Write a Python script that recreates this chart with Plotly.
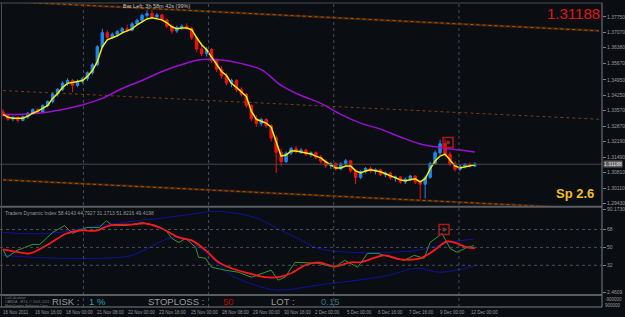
import plotly.graph_objects as go

# ---------------- data ----------------
bar_idx = list(range(96))
open_ = [1.3352,1.3336,1.3320,1.3328,1.3314,1.3330,1.3346,1.3362,1.3350,1.3380,
         1.3398,1.3432,1.3452,1.3480,1.3492,1.3470,1.3488,1.3500,1.3526,1.3562,
         1.3642,1.3705,1.3684,1.3698,1.3710,1.3722,1.3716,1.3744,1.3760,1.3782,
         1.3790,1.3775,1.3784,1.3762,1.3734,1.3712,1.3728,1.3734,1.3724,1.3682,
         1.3632,1.3612,1.3630,1.3580,1.3542,1.3512,1.3480,1.3492,1.3452,1.3430,
         1.3380,1.3322,1.3300,1.3318,1.3290,1.3236,1.3172,1.3130,1.3168,1.3188,
         1.3176,1.3182,1.3164,1.3170,1.3150,1.3132,1.3112,1.3122,1.3098,1.3120,
         1.3134,1.3090,1.3060,1.3086,1.3100,1.3088,1.3094,1.3072,1.3080,1.3058,
         1.3062,1.3040,1.3052,1.3066,1.3040,1.3030,1.3060,1.3122,1.3170,1.3210,
         1.3162,1.3120,1.3096,1.3110,1.3118,1.3110]
high = [1.3364,1.3342,1.3334,1.3331,1.3336,1.3352,1.3368,1.3368,1.3386,1.3404,
        1.3440,1.3458,1.3488,1.3502,1.3498,1.3496,1.3506,1.3532,1.3570,1.3650,
        1.3722,1.3716,1.3706,1.3718,1.3730,1.3740,1.3752,1.3768,1.3790,1.3805,
        1.3805,1.3792,1.3790,1.3768,1.3742,1.3736,1.3742,1.3746,1.3730,1.3690,
        1.3648,1.3640,1.3636,1.3588,1.3556,1.3524,1.3500,1.3498,1.3462,1.3436,
        1.3386,1.3338,1.3326,1.3324,1.3296,1.3246,1.3188,1.3176,1.3196,1.3200,
        1.3190,1.3188,1.3176,1.3176,1.3160,1.3140,1.3130,1.3128,1.3128,1.3142,
        1.3138,1.3096,1.3092,1.3106,1.3108,1.3100,1.3098,1.3086,1.3084,1.3068,
        1.3066,1.3060,1.3072,1.3070,1.3048,1.3068,1.3130,1.3180,1.3228,1.3230,
        1.3176,1.3132,1.3116,1.3124,1.3126,1.3128]
low = [1.3330,1.3312,1.3310,1.3306,1.3310,1.3322,1.3340,1.3344,1.3346,1.3372,
       1.3390,1.3420,1.3444,1.3468,1.3440,1.3462,1.3478,1.3490,1.3518,1.3555,
       1.3636,1.3672,1.3676,1.3686,1.3700,1.3708,1.3712,1.3736,1.3752,1.3770,
       1.3766,1.3768,1.3756,1.3726,1.3700,1.3704,1.3716,1.3718,1.3672,1.3618,
       1.3600,1.3598,1.3570,1.3530,1.3500,1.3470,1.3462,1.3440,1.3420,1.3370,
       1.3310,1.3286,1.3288,1.3280,1.3220,1.3080,1.3110,1.3124,1.3160,1.3166,
       1.3164,1.3156,1.3150,1.3140,1.3120,1.3102,1.3098,1.3090,1.3092,1.3112,
       1.3080,1.3030,1.3052,1.3078,1.3080,1.3074,1.3066,1.3060,1.3050,1.3040,
       1.3032,1.3030,1.3044,1.3030,1.2962,1.2966,1.3054,1.3116,1.3160,1.3150,
       1.3110,1.3086,1.3088,1.3100,1.3104,1.3106]
close = [1.3336,1.3320,1.3328,1.3314,1.3330,1.3346,1.3362,1.3350,1.3380,1.3398,
         1.3432,1.3452,1.3480,1.3492,1.3470,1.3488,1.3500,1.3526,1.3562,1.3642,
         1.3705,1.3684,1.3698,1.3710,1.3722,1.3716,1.3744,1.3760,1.3782,1.3790,
         1.3775,1.3784,1.3762,1.3734,1.3712,1.3728,1.3734,1.3724,1.3682,1.3632,
         1.3612,1.3630,1.3580,1.3542,1.3512,1.3480,1.3492,1.3452,1.3430,1.3380,
         1.3322,1.3300,1.3318,1.3290,1.3236,1.3172,1.3130,1.3168,1.3188,1.3176,
         1.3182,1.3164,1.3170,1.3150,1.3132,1.3112,1.3122,1.3098,1.3120,1.3134,
         1.3090,1.3060,1.3086,1.3100,1.3088,1.3094,1.3072,1.3080,1.3058,1.3062,
         1.3040,1.3052,1.3066,1.3040,1.3030,1.3060,1.3122,1.3170,1.3210,1.3162,
         1.3120,1.3096,1.3110,1.3118,1.3110,1.31188]
fast_ma = [1.3341,1.3328,1.3324,1.3324,1.3324,1.3333,1.3346,1.3355,1.3368,1.3381,
           1.3412,1.3434,1.3461,1.3479,1.3483,1.3487,1.3492,1.3510,1.3536,1.3576,
           1.3642,1.3673,1.3682,1.3691,1.3704,1.3713,1.3722,1.3740,1.3753,1.3766,
           1.3771,1.3766,1.3762,1.3749,1.3731,1.3722,1.3726,1.3726,1.3718,1.3682,
           1.3651,1.3629,1.3598,1.3567,1.3532,1.3514,1.3479,1.3461,1.3443,1.3421,
           1.3355,1.3319,1.3310,1.3302,1.3284,1.3222,1.3155,1.3160,1.3178,1.3178,
           1.3173,1.3169,1.3164,1.3155,1.3147,1.3129,1.3116,1.3102,1.3102,1.3111,
           1.3111,1.3089,1.3080,1.3089,1.3094,1.3089,1.3085,1.3076,1.3067,1.3058,
           1.3049,1.3045,1.3049,1.3054,1.3040,1.3054,1.3098,1.3133,1.3155,1.3164,
           1.3138,1.3111,1.3102,1.3107,1.3111,1.3116]
slow_ma_idx = [0,4,8,12,16,20,24,28,32,36,40,44,48,52,56,60,64,68,72,76,80,84,88,92,95]
slow_ma = [1.3341,1.3341,1.3348,1.3363,1.3383,1.3412,1.3456,1.3492,1.3532,1.3563,
           1.3585,1.3583,1.3567,1.3540,1.3470,1.3425,1.3390,1.3341,1.3302,1.3275,
           1.3240,1.3209,1.3193,1.3182,1.3173]
chan_idx = [0, 120]
chan_top = [1.3845, 1.3713]
chan_mid = [1.3447, 1.3319]
chan_bot = [1.3049, 1.2919]
bid = 1.31188
price_ticks = [1.37750,1.37070,1.36380,1.35670,1.34950,1.34250,1.33570,
               1.32870,1.32190,1.31490,1.30810,1.30110,1.29430]
signal_idx = [89.6]
signal_price = [1.3215]

tdi_green_idx = [0,0.8,2.8,6,7.4,10,12.4,14,16.8,19.4,20.8,22,24.8,28,30.8,32.8,34,35.4,36.8,38.8,
                 39.4,40.8,42,44.8,47.4,50,52.8,54,55.4,56.8,58.8,63.4,66.8,68.8,71.4,73.4,75.4,
                 78.8,80.8,82.8,84.8,86,88.4,90,91.4,93.4,94.8]
tdi_green = [48,40,47,53,53,65,72,64,70,70,77,72,72,75,72,67,59,55,59,50,
             40,39,30,27,25,20,25,27,17,20,35,34,30,37,30,44,44,
             39,37,42,39,55,64,49,45,50,51.8]
tdi_red_idx = [0,3.4,5.4,9.4,12.8,15.4,18.8,21.4,26,28.8,32,35.4,38,40.8,43.4,46,49.4,52.8,55.4,
               58,60.8,63.4,66.8,70,72,76.8,80,84,86.8,89.4,91.4,93.4,95]
tdi_red = [48,45,44,54,64,67,67,72,73,74,69,60,57,47,35,29,24,20,20,
           24,32,35,31,35,35,42,38,39,47,56,54,50,49.4]
tdi_up_idx = [0,9.4,19.4,27.4,32.8,37.4,42,46,51.4,56,59.4,63.4,70,76.8,83.4,90,94.8]
tdi_up = [65,64,72,77,80,83,86,85,79,67,59,49,45,45,47,55,58.4]
tdi_lo_idx = [0,6,19.4,26,31.4,34,36.8,41.4,46,52.8,56,63.4,76.8,83.4,88,94.8]
tdi_lo = [42,40,39,42,55,60,59,42,22,9,7,12,21,29,25,31.2]
tdi_levels = [68, 50, 32]
tdi_signal_idx = [88.8]
tdi_signal_val = [68]

date_labels = ["16 Nov 2011","16 Nov 16:00","18 Nov 00:00","21 Nov 08:00","22 Nov 00:00",
               "23 Nov 16:00","25 Nov 00:00","28 Nov 08:00","29 Nov 00:00","30 Nov 16:00",
               "2 Dec 00:00","5 Dec 00:00","6 Dec 16:00","7 Dec 16:00","9 Dec 00:00","12 Dec 00:00"]

# ---------------- layout helpers ----------------
BG = '#0a0d12'
W, H = 606.0, 307.0          # plot area in px
def py(px):
    return (H - px) / H
def px_x(px):
    return px / W
FONT = 'Liberation Sans'
GRAY = '#9a9a9a'

fig = go.Figure()

# channel lines
for vals in (chan_top, chan_bot):
    fig.add_trace(go.Scatter(x=chan_idx, y=vals, mode='lines',
                             line=dict(color='#3c2008', width=2.5), xaxis='x', yaxis='y'))
    fig.add_trace(go.Scatter(x=chan_idx, y=vals, mode='lines',
                             line=dict(color='#a85818', width=1, dash='dot'), xaxis='x', yaxis='y'))
fig.add_trace(go.Scatter(x=chan_idx, y=chan_mid, mode='lines',
                         line=dict(color='#7a3e12', width=1, dash='dot'), xaxis='x', yaxis='y'))

fig.add_trace(go.Candlestick(x=bar_idx, open=open_, high=high, low=low, close=close,
                             increasing=dict(line=dict(color='#1e88f0', width=1), fillcolor='#1e88f0'),
                             decreasing=dict(line=dict(color='#f01010', width=1), fillcolor='#f01010'),
                             whiskerwidth=0, xaxis='x', yaxis='y'))
fig.add_trace(go.Scatter(x=slow_ma_idx, y=slow_ma, mode='lines', line=dict(color='#9a10d0', width=1.5, shape='spline'),
                         xaxis='x', yaxis='y'))
fig.add_trace(go.Scatter(x=bar_idx, y=fast_ma, mode='lines', line=dict(color='#f5f000', width=1.5),
                         xaxis='x', yaxis='y'))
fig.add_trace(go.Scatter(x=signal_idx, y=signal_price, mode='markers',
                         marker=dict(symbol='square-open', size=10, color='#b01818', line=dict(width=1.5)),
                         xaxis='x', yaxis='y'))
fig.add_trace(go.Scatter(x=signal_idx, y=signal_price, mode='markers',
                         marker=dict(symbol='circle', size=4, color='#7a2a2a'), xaxis='x', yaxis='y'))

# TDI panel
fig.add_trace(go.Scatter(x=tdi_up_idx, y=tdi_up, mode='lines', line=dict(color='#12129a', width=1, shape='spline'),
                         xaxis='x2', yaxis='y2'))
fig.add_trace(go.Scatter(x=tdi_lo_idx, y=tdi_lo, mode='lines', line=dict(color='#12129a', width=1, shape='spline'),
                         xaxis='x2', yaxis='y2'))
fig.add_trace(go.Scatter(x=tdi_green_idx, y=tdi_green, mode='lines', line=dict(color='#2a9a3a', width=1),
                         xaxis='x2', yaxis='y2'))
fig.add_trace(go.Scatter(x=tdi_red_idx, y=tdi_red, mode='lines', line=dict(color='#ff1818', width=1.8, shape='spline'),
                         xaxis='x2', yaxis='y2'))
fig.add_trace(go.Scatter(x=tdi_signal_idx, y=tdi_signal_val, mode='markers',
                         marker=dict(symbol='square-open', size=10, color='#b01818', line=dict(width=1.5)),
                         xaxis='x2', yaxis='y2'))
fig.add_trace(go.Scatter(x=tdi_signal_idx, y=tdi_signal_val, mode='markers',
                         marker=dict(symbol='circle', size=4, color='#7a2a2a'), xaxis='x2', yaxis='y2'))

xr = [-0.6, 120.6]
tick_px = [1 + 31.4 * k for k in range(len(date_labels))]
tick_pos = [(p - 3) / 5 for p in tick_px]

shapes = []
# vertical dotted grid
for gx in (16.2, 41.4, 66.6, 91.8):
    shapes.append(dict(type='line', xref='x', yref='paper', x0=gx, x1=gx, y0=0, y1=py(1),
                       line=dict(color='#4a4f55', width=1, dash='dot')))
# bid line
shapes.append(dict(type='line', xref='paper', yref='y', x0=0, x1=1, y0=bid, y1=bid,
                   line=dict(color='#4a4a4a', width=1)))
# tdi levels
for lv in tdi_levels:
    shapes.append(dict(type='line', xref='paper', yref='y2', x0=0, x1=1, y0=lv, y1=lv,
                       line=dict(color='#4a4f55', width=1, dash='dot')))
# separators & frame
for sy in (206, 295):
    shapes.append(dict(type='line', xref='paper', yref='paper', x0=0, x1=1, y0=py(sy), y1=py(sy),
                       line=dict(color='#5a5e62', width=2)))
shapes.append(dict(type='line', xref='paper', yref='paper', x0=0, x1=1, y0=py(1), y1=py(1),
                   line=dict(color='#4a4e52', width=1)))
shapes.append(dict(type='line', xref='paper', yref='paper', x0=px_x(1.5), x1=px_x(1.5), y0=0, y1=py(1),
                   line=dict(color='#4a4e52', width=1)))
shapes.append(dict(type='line', xref='paper', yref='paper', x0=1, x1=1, y0=0, y1=py(1),
                   line=dict(color='#7a7e82', width=1)))
shapes.append(dict(type='line', xref='paper', yref='paper', x0=0, x1=1, y0=0, y1=0,
                   line=dict(color='#7a7e82', width=1)))

ann = []
def A(text, x, y, size, color, xanchor='left', yanchor='middle', family=FONT, bold=False, **kw):
    if bold:
        text = '<b>' + text + '</b>'
    d = dict(text=text, xref='paper', yref='paper', x=px_x(x), y=py(y), xanchor=xanchor, yanchor=yanchor,
             showarrow=False, font=dict(family=family, size=size, color=color), borderpad=0)
    d.update(kw)
    ann.append(d)

A('Bar Left: 3h 58m 42s (99%)', 158, 4.5, 5.5, '#c0c0c0', xanchor='center')
A('1.31188', 605, 2, 15, '#e01515', xanchor='right', yanchor='top')
A('Sp 2.6', 559, 193, 13, '#f0c020', bold=True)
A('Traders Dynamic Index 58.4143 44.7927 31.1713 51.8216 49.4198', 4, 212, 5, GRAY)
A('1.31188', 607, 163, 5, '#e8e8e8', bgcolor='#5c5c5c')
A('LotCalculator', 4, 298.3, 3.5, '#7a7a7a')
A('OANDA - MT4, © 2001-2011', 4, 302, 3.5, '#7a7a7a')
A('MetaQuotes Software Corp.', 4, 305.6, 3.5, '#7a7a7a')
A('RISK :', 51, 301.5, 9.5, GRAY)
A('1 %', 89, 301.5, 9.5, '#2aa0b4')
A('STOPLOSS :', 148, 301.5, 9.5, GRAY)
A('50', 223, 301.5, 9.5, '#c00000')
A('LOT :', 272, 301.5, 9.5, GRAY)
A('0.15', 322, 301.5, 9.5, '#2a7a84')
A('-900000', 608, 299.5, 4.5, GRAY)
A('900000', 608, 305.5, 4.5, GRAY)
for p, lab in zip(tick_px, date_labels):
    A(lab, p + 1.5, 312.5, 4.5, GRAY)

axis_font = dict(family=FONT, size=5, color=GRAY)
fig.update_layout(
    width=625, height=317, margin=dict(l=0, r=19, t=0, b=10),
    paper_bgcolor=BG, plot_bgcolor=BG, showlegend=False,
    xaxis=dict(domain=[0, 1], range=xr, visible=False, anchor='y', rangeslider=dict(visible=False)),
    xaxis2=dict(domain=[0, 1], range=xr, visible=False, anchor='y2'),
    xaxis3=dict(domain=[0, 1], range=xr, anchor='y3', tickvals=tick_pos, showticklabels=False,
                ticks='outside', ticklen=3, tickcolor='#7a7e82', showgrid=False, zeroline=False,
                showline=False),
    yaxis=dict(domain=[py(205), py(1)], range=[1.29341, 1.38371], side='right', anchor='x',
               tickvals=price_ticks, ticktext=['%.5f' % v for v in price_ticks],
               ticks='outside', ticklen=3, tickcolor='#7a7e82', tickfont=axis_font,
               showgrid=False, zeroline=False, showline=False),
    yaxis2=dict(domain=[py(294), py(207)], range=[3, 90], side='right', anchor='x2',
                tickvals=[88.3, 68, 50, 32, 4.8], ticktext=['90.1730', '68', '50', '32', '2.4609'],
                ticks='outside', ticklen=3, tickcolor='#7a7e82', tickfont=axis_font,
                showgrid=False, zeroline=False, showline=False),
    yaxis3=dict(domain=[0, py(296)], range=[0, 1], visible=False, anchor='x3'),
    shapes=shapes, annotations=ann,
)

fig.write_html('out.html')
